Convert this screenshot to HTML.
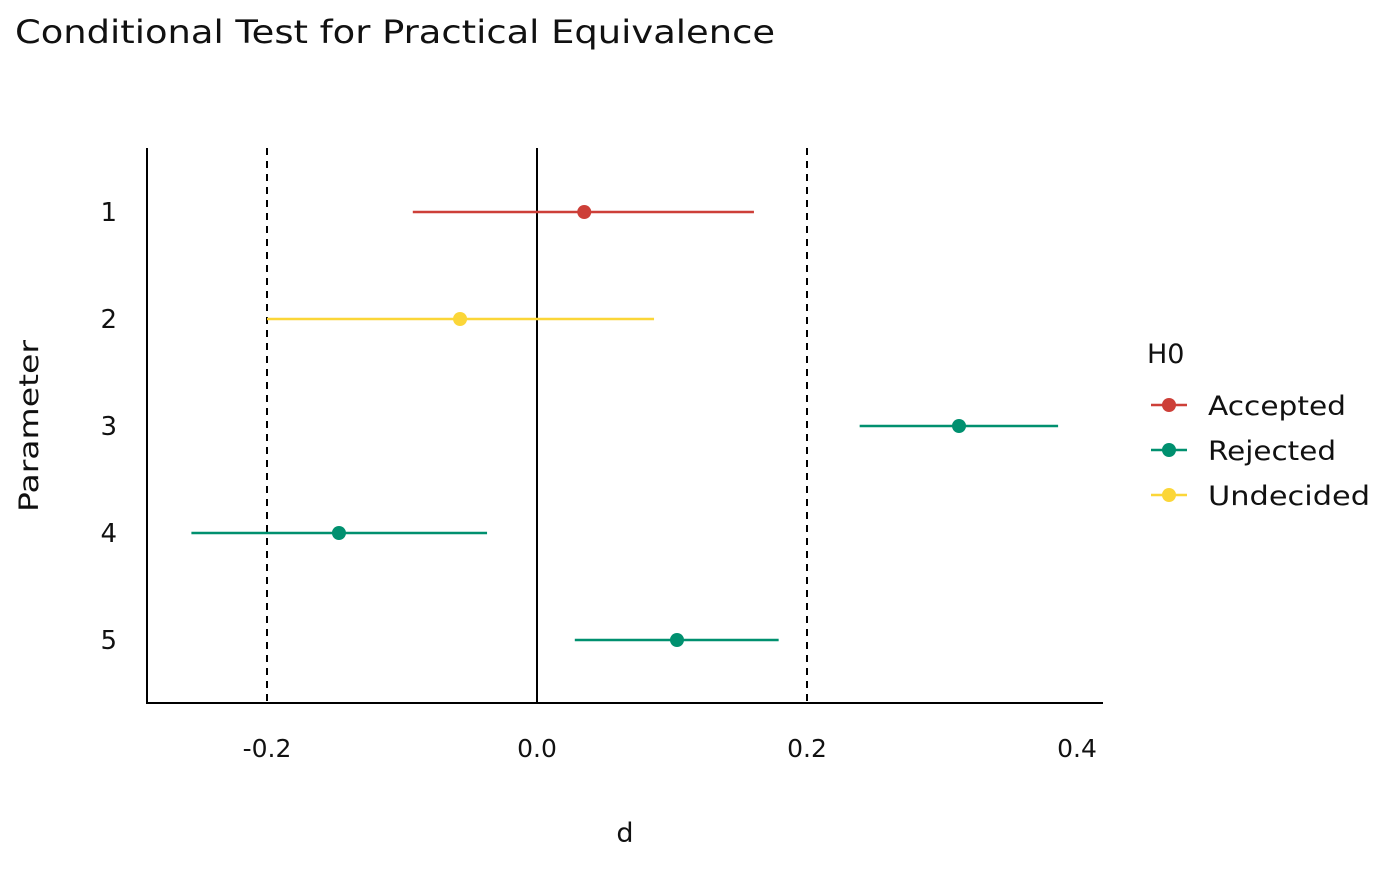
<!DOCTYPE html>
<html><head><meta charset="utf-8"><style>
body{margin:0;background:#fff;}
svg text{font-family:"DejaVu Sans","Liberation Sans",sans-serif;fill:#111;}
</style></head><body>
<svg id="chart" width="1400" height="866" xmlns="http://www.w3.org/2000/svg">
<text x="15" y="43" font-size="32" textLength="760" lengthAdjust="spacingAndGlyphs">Conditional Test for Practical Equivalence</text>
<g id="plot"></g>
<text x="625" y="842" font-size="27" text-anchor="middle">d</text>
<text transform="translate(38,426) rotate(-90)" font-size="27" text-anchor="middle" textLength="172" lengthAdjust="spacingAndGlyphs">Parameter</text>
<g>
<text x="1147" y="363" font-size="27">H0</text>
<g id="legend"></g>
</g>
</svg>
<script>
const params=["1","2","3","4","5"];
const est=[0.035,-0.057,0.3126,-0.1467,0.1037];
const lows=[-0.092,-0.2,0.239,-0.256,0.028];
const highs=[0.1607,0.0867,0.386,-0.037,0.179];
const status=["Accepted","Undecided","Rejected","Rejected","Rejected"];
const xTicks=[-0.2,0.0,0.2,0.4];
const xTickLabels=["-0.2","0.0","0.2","0.4"];
const ropeBounds=[-0.2,0.2];
const legendCats=["Accepted","Rejected","Undecided"];
const legendWidths=[138,128,162];
const colors={Accepted:"#cd3f38",Rejected:"#00906f",Undecided:"#fbd638"};
const NS="http://www.w3.org/2000/svg";
const xS=v=>537+v*1350;
const yS=i=>212+i*107;
const plot=document.getElementById('plot');
function mk(tag,attrs,parent){const e=document.createElementNS(NS,tag);for(const k in attrs)e.setAttribute(k,attrs[k]);(parent||plot).appendChild(e);return e;}
let e;
e=mk('line',{x1:147,y1:148,x2:147,y2:704,stroke:'#000','stroke-width':2});


e=mk('line',{x1:146,y1:703,x2:1103,y2:703,stroke:'#000','stroke-width':2});


e=mk('line',{x1:xS(0),y1:148,x2:xS(0),y2:703,stroke:'#000','stroke-width':2});


ropeBounds.forEach(b=>{
e=mk('line',{x1:xS(b),y1:148,x2:xS(b),y2:703,stroke:'#000','stroke-width':2,'stroke-dasharray':'7,6'});


});
xTicks.forEach((t,i)=>{
e=mk('text',{x:xS(t),y:757,'font-size':25,'text-anchor':'middle'});e.textContent=xTickLabels[i];


});
params.forEach((p,i)=>{
e=mk('text',{x:117,y:yS(i)+9,'font-size':26,'text-anchor':'end'});e.textContent=p;


const c=colors[status[i]];
e=mk('line',{x1:xS(lows[i]),y1:yS(i),x2:xS(highs[i]),y2:yS(i),stroke:c,'stroke-width':2.5});


e=mk('circle',{cx:xS(est[i]),cy:yS(i),r:7,fill:c});


});
const lg=document.getElementById('legend');
legendCats.forEach((k,i)=>{
const y=405+i*45;
e=mk('line',{x1:1151,y1:y,x2:1187,y2:y,stroke:colors[k],'stroke-width':2.5},lg);


e=mk('circle',{cx:1169,cy:y,r:7,fill:colors[k]},lg);


e=mk('text',{x:1208,y:y+10,'font-size':27,textLength:legendWidths[i],lengthAdjust:'spacingAndGlyphs'},lg);e.textContent=k;


});
</script>
</body></html>
